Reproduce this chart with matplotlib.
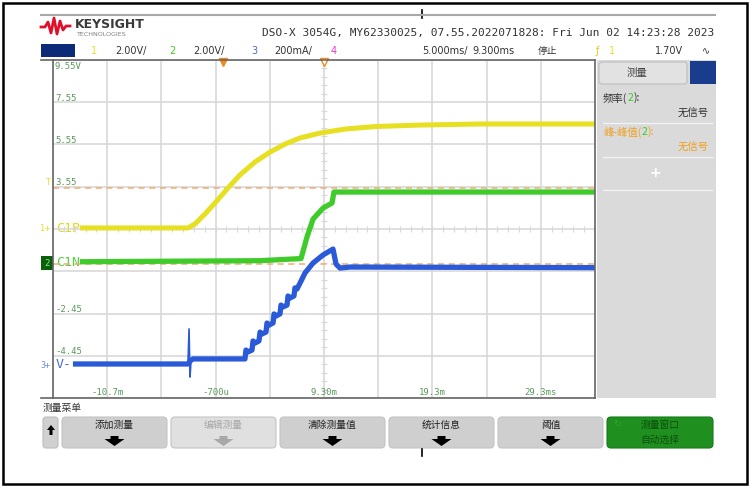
import numpy as np
import matplotlib
matplotlib.use('Agg')
import matplotlib.pyplot as plt
from matplotlib.patches import Rectangle, FancyBboxPatch, Polygon

# ---- trace data (time in ms, value in screen volts) ----
yellow_t = [-13.21, -3.25, -2.60, -1.68, -0.76, 0.44, 1.55, 2.93, 4.32, 5.70, 7.09, 8.93, 11.24, 14.00, 18.16, 23.70, 34.30]
yellow_v = [1.60, 1.60, 1.79, 2.26, 2.78, 3.49, 4.11, 4.72, 5.19, 5.57, 5.86, 6.09, 6.28, 6.40, 6.47, 6.52, 6.52]

green_t = [-13.21, 3.40, 7.18, 7.73, 8.29, 9.21, 10.04, 10.22, 34.30]
green_v = [0.00, 0.05, 0.15, 1.17, 2.02, 2.54, 2.78, 3.30, 3.30]

blue_t = [-13.86, -3.25, -3.06, -2.78, 2.01, 2.10, 2.29, 2.66, 2.75, 2.93, 3.30, 3.40, 3.58,
          3.95, 4.04, 4.23, 4.60, 4.69, 4.87, 5.24, 5.33, 5.52, 5.89, 5.98, 6.16, 6.53, 6.62,
          6.81, 7.09, 7.55, 8.29, 9.21, 10.13, 10.41, 10.78, 11.70, 34.30]
blue_v = [-4.84, -4.84, -4.70, -4.60, -4.60, -4.18, -4.27, -4.18, -3.75, -3.85, -3.75, -3.33, -3.42,
          -3.33, -2.90, -3.00, -2.90, -2.47, -2.57, -2.47, -2.05, -2.14, -2.05, -1.62, -1.72, -1.62, -1.24,
          -1.29, -1.01, -0.53, -0.06, 0.32, 0.60, -0.11, -0.30, -0.25, -0.28]

spike_t = [-3.25, -3.15, -3.06, -2.97]
spike_v = [-4.84, -3.18, -5.46, -4.70]

trig_level = 3.49
ref_level = -0.11
trig_time = 0.0
ref_time = 9.3

# axis labels
y_label_vals = [9.55, 7.55, 5.55, 3.55, -2.45, -4.45]
y_label_txt = ['9.55V', '7.55', '5.55', '3.55', '-2.45', '-4.45']
x_label_vals = [-10.7, -0.7, 9.3, 19.3, 29.3]
x_label_txt = ['-10.7m', '-700u', '9.30m', '19.3m', '29.3ms']

header = 'DSO-X 3054G, MY62330025, 07.55.2022071828: Fri Jun 02 14:23:28 2023'
buttons = ['添加测量', '编辑测量', '清除测量值', '统计信息', '阈值']

W, H = 755, 486
CJK = ['Noto Sans CJK SC', 'DejaVu Sans']
MONO = 'DejaVu Sans Mono'
YEL, GRN, BLU = '#e6df22', '#3fcc2a', '#2a5ad8'
LBL = '#5a9a5a'
ORG = '#f0ad74'

fig = plt.figure(figsize=(W / 100, H / 100), dpi=100)
bg = fig.add_axes([0, 0, 1, 1])
bg.set_xlim(0, W)
bg.set_ylim(H, 0)
bg.axis('off')
r = fig.canvas.get_renderer()


def pieces(x, y, parts, **kw):
    for s, c in parts:
        t = bg.text(x, y, s, color=c, **kw)
        x += t.get_window_extent(renderer=r).width


# outer frame + doc ticks
bg.add_patch(Rectangle((3, 3), 744, 481, fill=False, ec='black', lw=1.8))
bg.plot([422, 422], [10, 18], color='black', lw=1.2)
bg.plot([422, 422], [449, 456], color='black', lw=1.2)

# header
bg.plot([41, 715], [15, 15], color='#a8a8a8', lw=1.5)
bg.plot([41, 45, 48, 51, 54, 57, 60, 63, 66, 70], [27, 27, 22, 33, 18, 34, 21, 30, 26, 26],
        color='#e0102a', lw=2)
bg.text(75, 24, 'KEYSIGHT', fontsize=9, fontweight='bold', color='#3a3a3a', va='center')
bg.text(76, 34, 'TECHNOLOGIES', fontsize=4.6, color='#808080', va='center')
bg.text(262, 33, header, family=MONO, fontsize=8, color='#333333', va='center')

bg.add_patch(Rectangle((41, 44), 34, 13, fc='#0b2a78', ec='none'))
row = [(91, '1', YEL), (115, '2.00V/', '#333'), (169, '2', GRN), (193, '2.00V/', '#333'),
       (251, '3', '#4a6ad0'), (274, '200mA/', '#333'), (331, '4', '#e040c0'),
       (422, '5.000ms/', '#333'), (472, '9.300ms', '#333'), (596, 'ƒ', '#e8d020'),
       (609, '1', YEL), (655, '1.70V', '#333'), (702, '∿', '#333')]
for x, s, c in row:
    bg.text(x, 51, s, fontsize=7, color=c, va='center')
bg.text(538, 51, '停止', family=CJK, fontsize=7, color='#333', va='center')

# left markers
bg.text(46, 182, 'T', family=MONO, fontsize=6, color=YEL, va='center')
bg.text(40, 228, '1+', family=MONO, fontsize=6, color=YEL, va='center')
bg.text(56, 228, 'C1P', family=MONO, fontsize=9.5, color='#e0d820', va='center')
bg.add_patch(Rectangle((41, 256), 12, 14, fc='#0b5e0b', ec='none'))
bg.text(47, 263, '2', family=MONO, fontsize=6.5, color='#7ef07e', va='center', ha='center')
bg.text(56, 262, 'C1N', family=MONO, fontsize=9.5, color='#55d045', va='center')
bg.text(40, 365, '3+', family=MONO, fontsize=6, color='#6b8be8', va='center')
bg.text(56, 364, 'V-', family=MONO, fontsize=9.5, color='#4a6ee0', va='center')
bg.plot([41, 53], [398, 398], color='#666', lw=1.2)
bg.plot([41, 53], [60, 60], color='#666', lw=1.2)

# measurement panel
bg.add_patch(Rectangle((597, 60), 119, 338, fc='#dadada', ec='none'))
bg.add_patch(FancyBboxPatch((599, 62), 88, 22, boxstyle='round,pad=0,rounding_size=3',
                            fc='#e2e2e2', ec='#bdbdbd', lw=0.8))
bg.add_patch(Rectangle((690, 61), 26, 23, fc='#1a3c8c', ec='none'))
bg.text(637, 73, '测量', family=CJK, fontsize=7.5, color='#444', ha='center', va='center')
pieces(603, 98, [('频率(', '#333'), ('2', GRN), ('):', '#333')], family=CJK, fontsize=7.5, va='center')
bg.text(709, 114, '无信号', family=CJK, fontsize=7.5, color='#333', ha='right', va='center')
pieces(603, 132, [('峰-峰值(', '#f0a020'), ('2', GRN), ('):', '#f0a020')], family=CJK, fontsize=7.5,
       va='center')
bg.text(709, 148, '无信号', family=CJK, fontsize=7.5, color='#f0a020', ha='right', va='center')
for y in [123, 157, 190]:
    bg.plot([603, 712], [y, y], color='#f2f2f2', lw=1)
bg.text(655, 173, '+', fontsize=10, fontweight='bold', color='white', ha='center', va='center')

# bottom menu
bg.text(43, 408, '测量菜单', family=CJK, fontsize=7, color='#333', va='center')
bg.add_patch(FancyBboxPatch((43, 417), 15, 31, boxstyle='round,pad=0,rounding_size=3',
                            fc='#d0d0d0', ec='#bdbdbd', lw=0.8))
bg.add_patch(Polygon([(51, 425), (55, 430), (52.5, 430), (52.5, 435), (49.5, 435), (49.5, 430), (47, 430)],
                     closed=True, fc='black', ec='none'))


def down_arrow(cx, col):
    pts = [(cx - 4, 436), (cx + 4, 436), (cx + 4, 439), (cx + 10, 439), (cx, 446), (cx - 10, 439),
           (cx - 4, 439)]
    bg.add_patch(Polygon(pts, closed=True, fc=col, ec='none'))


x0s = [62, 171, 280, 389, 498]
for i, (x0, lab) in enumerate(zip(x0s, buttons)):
    grey = (i == 1)
    bg.add_patch(FancyBboxPatch((x0, 417), 105, 31, boxstyle='round,pad=0,rounding_size=4',
                                fc='#e0e0e0' if grey else '#cfcfcf', ec='#c4c4c4', lw=0.8))
    cx = x0 + 52.5
    bg.text(cx, 425, lab, family=CJK, fontsize=7, color='#a8a8a8' if grey else '#222',
            ha='center', va='center')
    down_arrow(cx, '#a8a8a8' if grey else 'black')
bg.add_patch(FancyBboxPatch((607, 417), 106, 31, boxstyle='round,pad=0,rounding_size=4',
                            fc='#1f8f1f', ec='#187a18', lw=0.8))
bg.text(660, 425, '测量窗口', family=CJK, fontsize=7, color='#0d500d', ha='center', va='center')
bg.text(660, 440, '自动选择', family=CJK, fontsize=7, color='#0d500d', ha='center', va='center')
bg.text(617, 424, '↻', fontsize=7, color='#2aa82a', ha='center', va='center')

# ---- scope grid ----
ax = fig.add_axes([53 / W, 1 - 398 / H, 542 / W, 338 / H])
ax.patch.set_alpha(0)
ax.set_xlim(-15.7, 34.3)
ax.set_ylim(-6.45, 9.55)
ax.set_xticks(np.arange(-15.7, 34.31, 5))
ax.set_yticks(np.arange(-6.45, 9.56, 2))
ax.grid(color='#d6d6d6', lw=1.1)
ax.tick_params(length=0, labelbottom=False, labelleft=False)
for s in ax.spines.values():
    s.set_color('#666')
    s.set_linewidth(1.2)

ax.plot(np.full(41, 9.3), np.linspace(-6.45, 9.55, 41), ls='none', marker='_', ms=5, mew=0.8, color='#d8d8d8')
ax.plot(np.linspace(-15.7, 34.3, 51), np.full(51, 1.55), ls='none', marker='|', ms=5, mew=0.8, color='#d8d8d8')

for v, s in zip(y_label_vals, y_label_txt):
    yy = v - 0.3 if v == 9.55 else v + 0.19
    ax.text(-15.52, yy, s, family=MONO, fontsize=6.5, color=LBL, va='center')
for t, s in zip(x_label_vals, x_label_txt):
    ax.text(t, -6.21, s, family=MONO, fontsize=6.5, color=LBL, va='center', ha='center')

ax.axhline(trig_level, color=ORG, lw=1.1, ls=(0, (4, 3)))
ax.axhline(ref_level, color=ORG, lw=1.1, ls=(0, (4, 3)))

ax.plot(yellow_t, yellow_v, color=YEL, lw=3.6, solid_capstyle='butt')
ax.plot(green_t, green_v, color=GRN, lw=3.8, solid_capstyle='butt')
ax.plot(blue_t, blue_v, color=BLU, lw=3.8, solid_capstyle='butt')
ax.plot(spike_t, spike_v, color=BLU, lw=1.2)

ax.plot([trig_time], [9.47], marker='v', ms=6, color='#f08a1a', clip_on=False)
ax.plot([ref_time], [9.47], marker='v', ms=6, mfc='white', mec='#f08a1a', clip_on=False)

fig.savefig('out.png', dpi=100)
